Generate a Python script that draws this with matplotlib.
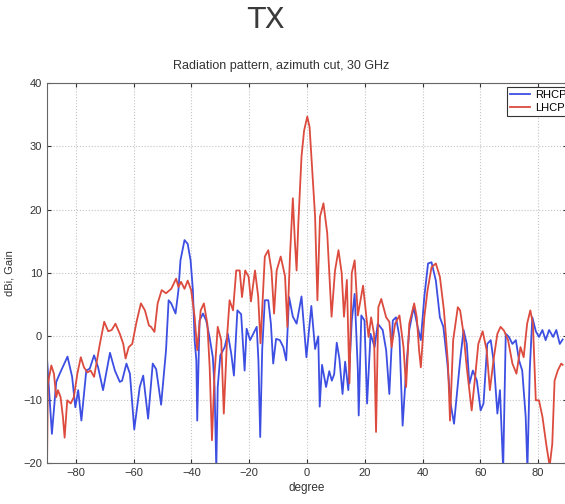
import matplotlib
matplotlib.use('Agg')
import matplotlib.pyplot as plt

# RHCP trace (blue)
rhcp_deg = [-90.0, -88.3, -86.8, -85.6, -82.9, -81.3, -80.2, -79.2, -78.1, -76.4, -75.2, -73.7, -72.3, -70.6,
            -68.2, -66.5, -64.8, -64.0, -62.5, -61.3, -59.8, -57.9, -56.7, -55.0, -53.4, -52.2, -50.5, -48.8,
            -47.9, -47.0, -45.5, -44.5, -43.8, -42.4, -41.3, -40.3, -39.5, -38.9, -38.3, -38.0, -37.2, -36.0,
            -34.9, -33.7, -32.6, -32.0, -31.4, -30.9, -30.0, -28.5, -27.4, -26.2, -25.3, -24.1, -22.8, -21.6,
            -20.9, -19.7, -18.6, -17.4, -16.8, -16.2, -15.5, -14.6, -13.4, -12.5, -11.7, -10.7, -9.4, -8.2,
            -7.2, -6.2, -4.9, -3.6, -1.9, -0.2, 1.5, 2.8, 3.9, 4.4, 5.2, 6.6, 7.7, 8.6, 9.4, 10.3, 11.2, 12.3,
            13.2, 14.3, 15.5, 16.5, 17.6, 17.9, 18.8, 19.9, 20.8, 22.0, 23.4, 24.5, 26.2, 27.4, 28.5, 29.7,
            30.8, 32.0, 33.1, 34.3, 35.4, 36.9, 38.3, 39.4, 40.6, 41.9, 43.1, 44.6, 46.0, 47.2, 48.6, 49.7,
            50.9, 52.0, 53.0, 54.2, 55.3, 56.2, 57.4, 58.8, 60.1, 61.1, 62.4, 63.6, 64.7, 65.9, 66.8, 67.9,
            68.8, 69.9, 71.1, 72.3, 73.4, 74.5, 75.7, 76.3, 77.1, 78.0, 79.2, 80.3, 81.5, 82.6, 83.8, 85.2,
            86.3, 87.5, 88.5]
rhcp_gain = [-3.5, -15.4, -7.2, -5.9, -3.2, -6.4, -11.2, -8.5, -13.3, -5.4, -5.1, -3.0, -4.9, -8.5,
             -2.6, -5.4, -7.2, -7.0, -4.3, -5.9, -14.7, -8.0, -6.2, -13.0, -4.3, -5.2, -10.8, -2.2,
             5.7, 5.2, 3.6, 7.3, 12.0, 15.2, 14.6, 12.0, 7.3, -0.6, -3.8, -13.3, 2.5, 3.6,
             2.5, -0.2, -3.3, -8.0, -21.0, -8.0, -3.0, -1.7, 0.4, -2.8, -6.2, 4.1, 3.5, -5.4,
             1.2, -0.6, 0.4, 1.5, -4.0, -15.9, -2.0, 5.7, 5.7, 2.0, -4.3, -0.4, -0.6, -1.7,
             -3.8, 6.2, 3.1, 2.0, 6.3, -3.3, 4.8, -2.0, 0.0, -11.1, -4.5, -8.0, -5.5, -7.0, -6.0, -1.0, -3.5, -9.1,
             -4.0, -8.5, 2.5, 6.7, -5.4, -12.5, 3.3, 2.5, -10.6, 0.4, -1.7, 2.0, 1.0, -2.2, -9.1, 2.5,
             3.0, -0.1, -14.1, -5.4, 1.0, 4.6, 1.5, -0.6, 6.2, 11.5, 11.7, 8.8, 3.0, 1.5, -4.3, -10.6,
             -13.8, -8.5, -3.8, 1.0, -1.2, -7.5, -5.4, -7.0, -11.7, -10.6, -1.2, -0.6, -4.3, -12.2, -8.5, -21.0,
             0.4, -0.1, -1.2, -0.6, -3.8, -5.4, -12.7, -21.0, -5.4, 3.0, 0.8, -0.1, 1.0, -0.6, 1.0, -0.1,
             1.0, -1.2, -0.5]

# LHCP trace (red)
lhcp_deg = [-90.0, -89.7, -88.5, -87.6, -86.8, -86.2, -85.3, -84.5, -83.9, -83.0, -81.8, -80.7, -79.5, -78.3,
            -77.2, -76.0, -74.9, -73.7, -72.9, -71.7, -70.2, -68.8, -67.6, -66.3, -64.8, -63.6, -62.8, -61.7,
            -60.5, -59.0, -57.5, -56.1, -54.7, -54.0, -52.8, -51.7, -50.3, -48.8, -47.0, -45.3, -44.5, -43.6,
            -42.4, -41.3, -40.1, -38.9, -38.0, -36.8, -35.7, -34.5, -33.7, -32.9, -32.0, -30.9, -29.7, -28.8,
            -27.6, -26.8, -25.6, -24.5, -23.3, -22.5, -21.4, -20.2, -19.4, -18.0, -16.9, -16.1, -14.6, -13.4,
            -12.3, -11.4, -10.5, -9.1, -7.6, -6.8, -5.9, -4.9, -4.2, -3.6, -3.0, -1.9, -1.0, 0.1, 0.9, 1.6,
            2.8, 3.6, 4.5, 5.7, 7.0, 8.5, 9.7, 10.9, 12.0, 12.8, 13.8, 14.7, 15.5, 16.5, 17.6, 19.4, 20.5,
            21.3, 22.2, 23.2, 23.9, 24.7, 25.7, 27.4, 28.5, 29.3, 30.5, 32.0, 33.4, 34.3, 35.4, 37.1, 38.0,
            38.8, 39.4, 40.6, 41.7, 43.1, 44.6, 46.0, 47.4, 48.8, 49.5, 50.6, 52.2, 53.0, 54.2, 55.3, 57.0,
            58.2, 59.3, 60.8, 62.2, 63.3, 64.7, 65.9, 67.0, 68.2, 69.6, 71.1, 72.5, 73.9, 75.0, 76.2, 77.3,
            78.2, 79.2, 80.3, 81.5, 82.8, 84.0, 84.9, 85.7, 86.8, 88.0, 88.5]
lhcp_gain = [-20.5, -7.5, -4.6, -5.9, -9.6, -8.5, -9.6, -12.7, -16.0, -10.1, -10.6, -9.6, -5.9, -3.3,
             -4.9, -5.7, -5.4, -6.4, -4.3, -1.2, 2.3, 0.8, 1.0, 2.0, 0.4, -1.2, -3.5, -1.7,
             -1.2, 2.3, 5.2, 4.1, 1.7, 1.5, 0.7, 5.2, 7.3, 6.8, 7.5, 9.1, 7.8, 8.6,
             7.5, 8.8, 7.3, 3.1, -2.2, 4.1, 5.2, 2.0, -4.8, -16.4, -5.9, 1.5, -0.6, -12.2,
             0.4, 5.7, 4.1, 10.4, 10.4, 6.2, 10.4, 9.4, 5.5, 10.4, 6.3, -1.1, 12.6, 13.6,
             10.4, 3.6, 10.4, 12.6, 9.5, 1.5, 12.6, 21.8, 15.0, 10.4, 17.8, 28.4, 32.5, 34.7, 33.0, 27.8,
             18.9, 5.7, 18.9, 21.0, 16.3, 3.1, 10.4, 13.6, 10.0, 3.1, 8.9, -7.4, 10.0, 12.0, 3.3, 8.0, 3.3,
             -0.1, 3.0, 0.4, -15.1, 4.6, 5.9, 3.0, 2.3, -1.7, 2.0, 3.3, -1.7, -8.0, 2.0, 5.2, 3.0,
             -2.2, -4.9, 3.0, 7.2, 10.9, 11.5, 9.4, 4.1, -4.3, -13.3, -0.6, 4.6, 4.1, 0.4, -4.9, -11.7,
             -6.4, -1.2, 0.8, -2.2, -8.5, -3.3, 0.4, 1.5, 0.9, -0.6, -4.3, -5.9, -1.7, -3.3, 2.0, 4.1,
             2.0, -10.1, -10.1, -12.7, -17.0, -20.5, -17.0, -7.0, -5.4, -4.3, -4.5]

xticks = [-80, -60, -40, -20, 0, 20, 40, 60, 80]
yticks = [-20, -10, 0, 10, 20, 30, 40]

plt.rcParams['font.family'] = ['Liberation Sans', 'DejaVu Sans']

fig = plt.figure(figsize=(5.65, 5.04), dpi=100)
ax = fig.add_axes([47 / 565, 41 / 504, 520 / 565, 380 / 504])

ax.plot(rhcp_deg, rhcp_gain, color='#3d4fe3', lw=1.3, label='RHCP')
ax.plot(lhcp_deg, lhcp_gain, color='#dc4b3e', lw=1.3, label='LHCP')

ax.set_xlim(-90, 90)
ax.set_ylim(-20, 40)
ax.set_xticks(xticks)
ax.set_yticks(yticks)
ax.grid(True, linestyle=':', color='#c4c4c4', lw=0.8)
ax.tick_params(direction='in', top=True, right=True, labelsize=8, colors='#333333', length=3)
for s in ax.spines.values():
    s.set_color('#666666')

ax.set_xlabel('degree', fontsize=8.5, color='#333333', labelpad=3)
ax.set_ylabel('dBi, Gain', fontsize=8, color='#333333', labelpad=6)

fig.text(281 / 565, 1 - 66 / 504, 'Radiation pattern, azimuth cut, 30 GHz', ha='center', va='center',
         fontsize=9, color='#333333')
fig.text(266 / 565, 1 - 20 / 504, 'TX', ha='center', va='center', fontsize=21,
         family=['DejaVu Sans'], color='#3a3a3a')

leg = ax.legend(loc='upper left', bbox_to_anchor=(507 / 565, 1 - 87 / 504), bbox_transform=fig.transFigure,
                fontsize=8, fancybox=False, framealpha=1, edgecolor='#333333', handlelength=1.8,
                borderpad=0.3, labelspacing=0.2, handletextpad=0.4, borderaxespad=0)
leg.get_frame().set_linewidth(0.8)

fig.savefig('out.png', dpi=100)
